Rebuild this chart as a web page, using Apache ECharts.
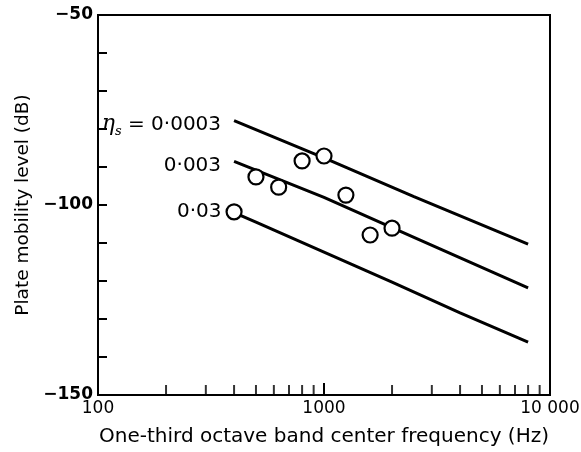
<!DOCTYPE html>
<html>
<head>
<meta charset="utf-8">
<script src="https://cdn.jsdelivr.net/npm/echarts@6/dist/echarts.min.js"></script>
<style>html,body{margin:0;padding:0;background:#fff}#c{width:581px;height:452px}</style>
</head>
<body>
<div id="c"></div>
<script>
// Data
const lineLabels = ['0·0003', '0·003', '0·03'];
const topFreq = [400, 1000, 2500, 8000];
const topDb = [-77.8, -87.6, -97.8, -110.3];
const midFreq = [400, 1000, 2500, 8000];
const midDb = [-88.5, -98.0, -108.5, -121.8];
const lowFreq = [400, 500, 1000, 2000, 4000, 8000];
const lowDb = [-102.0, -104.5, -112.4, -120.3, -128.4, -136.1];
const measFreq = [400, 500, 630, 800, 1000, 1250, 1600, 2000];
const measDb = [-101.8, -92.6, -95.3, -88.4, -87.1, -97.4, -107.9, -106.1];
const minorTickFreq = [200, 300, 400, 500, 600, 700, 800, 900, 2000, 3000, 4000, 5000, 6000, 7000, 8000, 9000];
const xTickLabels = {100: '100', 1000: '1000', 10000: '10 000'};
const yTickLabels = {'-50': '−50', '-100': '−100', '-150': '−150'};

const FONT = 'DejaVu Sans';
const LBL = 20;
const chart = echarts.init(document.getElementById('c'));

function lineData(fr, db, labelText, rich) {
  return fr.map((f, i) => {
    const item = {value: [f, db[i]]};
    if (i === 0 && labelText) {
      item.label = {show: true, position: 'left', distance: 13, offset: [0, 4], formatter: labelText, color: '#000',
        fontFamily: FONT, fontSize: LBL, rich: rich || {}};
    }
    return item;
  });
}
const etaRich = {
  e: {fontFamily: 'DejaVu Serif', fontStyle: 'italic', fontSize: 22, color: '#000', lineHeight: 26, verticalAlign: 'middle'},
  s: {fontFamily: 'DejaVu Serif', fontStyle: 'italic', fontSize: 13, color: '#000', lineHeight: 26, verticalAlign: 'bottom', padding: [0, 0, 0, 0]},
  n: {fontFamily: FONT, fontSize: LBL, color: '#000', lineHeight: 26, verticalAlign: 'middle'}
};

const lineStyle = {color: '#000', width: 3};
function lineSeries(data) {
  return {type: 'line', silent: true, showSymbol: true, symbol: 'circle', symbolSize: 0.01,
    itemStyle: {color: 'rgba(0,0,0,0)'}, lineStyle: lineStyle, data: data, z: 3};
}
chart.setOption({
  animation: false,
  backgroundColor: '#fff',
  grid: {left: 98, right: 31, top: 15, bottom: 57, show: true, borderColor: '#000', borderWidth: 2,
    backgroundColor: 'transparent', containLabel: false, outerBoundsMode: 'none'},
  xAxis: {
    type: 'log', logBase: 10, min: 100, max: 10000,
    name: 'One-third octave band center frequency (Hz)', nameLocation: 'middle', nameGap: 32,
    nameTextStyle: {fontFamily: FONT, fontSize: 20, color: '#000'},
    axisLine: {show: true, lineStyle: {color: '#000', width: 2}},
    axisTick: {show: true, inside: true, length: 12, lineStyle: {color: '#000', width: 2}},
    axisLabel: {formatter: v => xTickLabels[v] || '', fontFamily: FONT, fontSize: 17, color: '#000', margin: 5},
    splitLine: {show: false}
  },
  yAxis: {
    type: 'value', min: -150, max: -50, interval: 10,
    name: 'Plate mobility level (dB)', nameLocation: 'middle', nameGap: 60, nameRotate: 90,
    nameTextStyle: {fontFamily: FONT, fontSize: 18.5, color: '#000'},
    axisLine: {show: true, lineStyle: {color: '#000', width: 2}},
    axisTick: {show: true, inside: true, length: 9, lineStyle: {color: '#000', width: 2}},
    axisLabel: {formatter: v => yTickLabels[String(v)] || '', fontFamily: FONT, fontSize: 17, fontWeight: 'bold', color: '#000', margin: 5},
    splitLine: {show: false}
  },
  series: [
    {type: 'scatter', silent: true, symbol: 'rect', symbolSize: [2, 10], symbolOffset: [0, -5],
     itemStyle: {color: '#000'}, data: minorTickFreq.map(f => [f, -150]), z: 1},
    lineSeries(lineData(topFreq, topDb, '{e|η}{s|s}{n| = ' + lineLabels[0] + '}', etaRich)),
    lineSeries(lineData(midFreq, midDb, lineLabels[1], null)),
    lineSeries(lineData(lowFreq, lowDb, null, null)),
    {type: 'scatter', silent: true, symbol: 'circle', symbolSize: 15,
     itemStyle: {color: '#fff', borderColor: '#000', borderWidth: 2.2, opacity: 1},
     data: measFreq.map((f, i) => {
       const it = {value: [f, measDb[i]]};
       if (i === 0) it.label = {show: true, position: 'left', distance: 4, formatter: lineLabels[2], color: '#000', fontFamily: FONT, fontSize: LBL};
       return it;
     }), z: 5}
  ]
});
</script>
</body>
</html>
